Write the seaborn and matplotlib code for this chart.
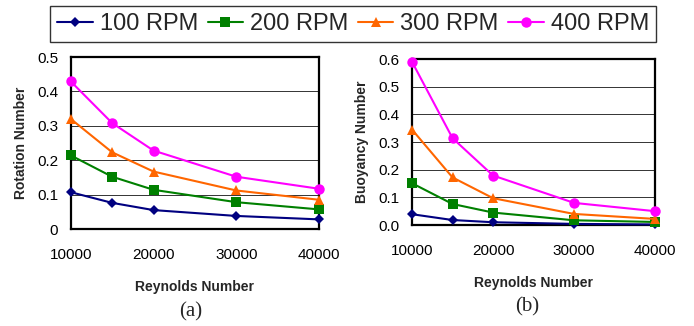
import matplotlib
matplotlib.use("Agg")
import pandas as pd
import matplotlib.pyplot as plt
import seaborn as sns

# Reynolds numbers (x axis)
reynolds = [10000, 15000, 20000, 30000, 40000]
rpm_labels = ["100 RPM", "200 RPM", "300 RPM", "400 RPM"]

# (a) Rotation number
rotation_100 = [0.107, 0.076, 0.055, 0.038, 0.028]
rotation_200 = [0.214, 0.152, 0.114, 0.078, 0.057]
rotation_300 = [0.320, 0.223, 0.167, 0.112, 0.085]
rotation_400 = [0.429, 0.308, 0.228, 0.152, 0.117]

# (b) Buoyancy number
buoyancy_100 = [0.039, 0.018, 0.010, 0.004, 0.002]
buoyancy_200 = [0.151, 0.076, 0.045, 0.017, 0.011]
buoyancy_300 = [0.345, 0.172, 0.097, 0.040, 0.022]
buoyancy_400 = [0.590, 0.314, 0.179, 0.080, 0.050]

colors = ["#000080", "#008000", "#FF6600", "#FF00FF"]
markers = ["D", "s", "^", "o"]
msizes = [5.5, 6.5, 7.5, 7.5]

sns.set_style("white")
plt.rcParams["font.family"] = ["Liberation Sans", "DejaVu Sans"]


def draw_panel(ax, series, ylabel, ymax, yfmt, xlab_y, ylab_x):
    lines = []
    for vals, lab, c, m, ms in zip(series, rpm_labels, colors, markers, msizes):
        df = pd.DataFrame({"Re": reynolds, "val": vals})
        sns.lineplot(data=df, x="Re", y="val", ax=ax, color=c, marker=m,
                     markersize=ms, markeredgewidth=0, linewidth=1.5,
                     clip_on=False, zorder=3)
        ln = ax.lines[-1]
        ln.set_label(lab)
        lines.append(ln)
    if ax.get_legend() is not None:
        ax.get_legend().remove()

    ax.set_xlim(10000, 40000)
    ax.set_ylim(0, ymax)
    ax.set_xticks([10000, 20000, 30000, 40000])
    yt = [i / 10 for i in range(int(round(ymax * 10)) + 1)]
    ax.set_yticks(yt)
    ax.set_yticklabels([yfmt(v) for v in yt])
    ax.grid(True, axis="y", color="#333333", linewidth=0.7)
    ax.set_axisbelow(True)
    for sp in ax.spines.values():
        sp.set_color("black")
        sp.set_linewidth(1.6)
    ax.tick_params(axis="both", direction="out", length=4, width=1.2,
                   labelsize=11, colors="black")
    ax.tick_params(axis="x", pad=10)
    ax.tick_params(axis="y", pad=5)

    ax.set_xlabel("Reynolds Number", fontsize=10, fontweight="bold")
    ax.set_ylabel(ylabel, fontsize=10, fontweight="bold")
    ax.xaxis.set_label_coords(0.5, xlab_y)
    ax.yaxis.set_label_coords(ylab_x, 0.5)
    ax.yaxis.label.set_va("center")
    return lines


fig = plt.figure(figsize=(6.94, 3.26), dpi=100)
ax_a = fig.add_axes([0.102, 0.2975, 0.3577, 0.5276])
ax_b = fig.add_axes([0.5937, 0.3098, 0.3501, 0.509])

handles = draw_panel(ax_a, [rotation_100, rotation_200, rotation_300, rotation_400],
                     "Rotation Number", 0.5,
                     lambda v: "0" if v == 0 else f"{v:.1f}", -0.297, -0.2)
draw_panel(ax_b, [buoyancy_100, buoyancy_200, buoyancy_300, buoyancy_400],
           "Buoyancy Number", 0.6, lambda v: f"{v:.1f}", -0.307, -0.207)

fig.text(191 / 694, 1 - 312 / 326, "(a)", fontsize=15, family="Liberation Serif",
         ha="center", va="center")
fig.text(527 / 694, 1 - 307 / 326, "(b)", fontsize=15, family="Liberation Serif",
         ha="center", va="center")

leg = fig.legend(handles, rpm_labels, loc="center", ncol=4,
                 bbox_to_anchor=(0.509, 1 - 24 / 326), fontsize=17,
                 frameon=True, fancybox=False, handlelength=1.5,
                 handletextpad=0.3, columnspacing=0.4, borderpad=0.3,
                 borderaxespad=0)
leg.get_frame().set_edgecolor("black")
leg.get_frame().set_linewidth(1.0)

fig.savefig("out.png", dpi=100)
